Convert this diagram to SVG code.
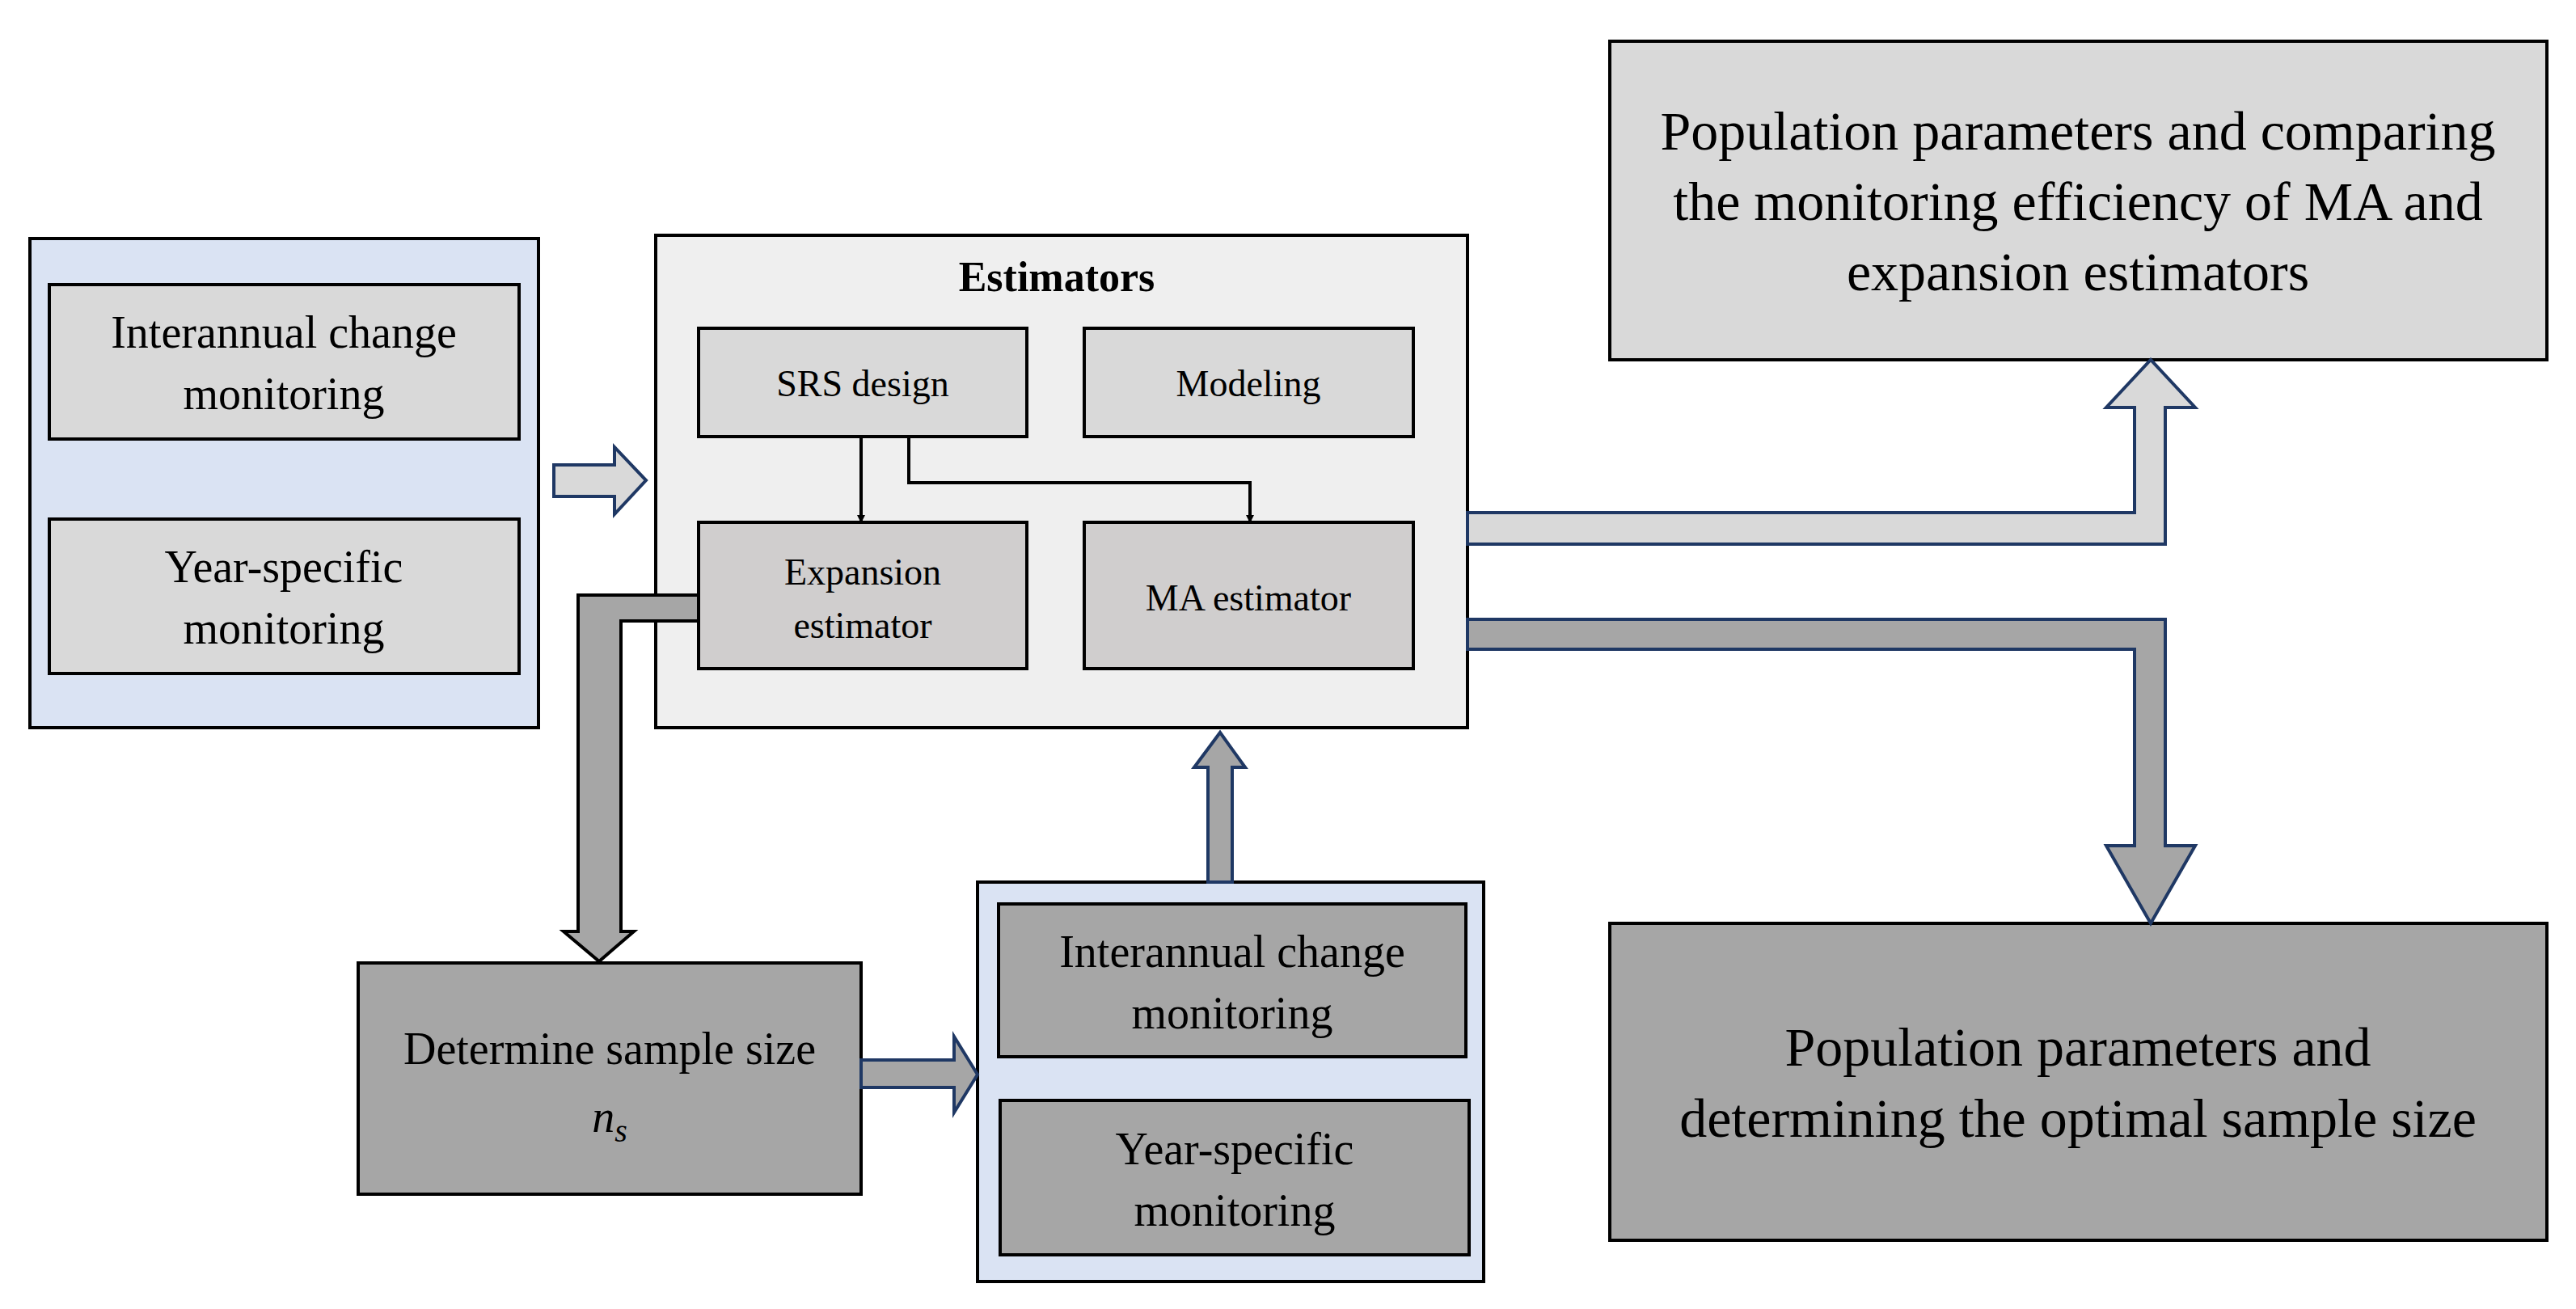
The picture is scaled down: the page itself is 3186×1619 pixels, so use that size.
<svg xmlns="http://www.w3.org/2000/svg" width="3186" height="1619" viewBox="0 0 3186 1619">
<style>
.t{font-family:"Liberation Serif",serif;fill:#000;text-anchor:middle}
.b{stroke:#000;stroke-width:4}
.n{stroke:#1f3864;stroke-width:4}
</style>
<defs><marker id="ah" markerWidth="10" markerHeight="10" refX="9" refY="5" orient="auto" markerUnits="userSpaceOnUse" viewBox="0 0 10 10"><path d="M0,0 L10,5 L0,10z" fill="#000"/></marker></defs>
<rect width="3186" height="1619" fill="#fff"/>
<g id="left">
<rect x="37" y="295" width="629" height="605" fill="#dae3f3" class="b"/>
<rect x="61" y="352" width="581" height="191" fill="#d9d9d9" class="b"/>
<text class="t" x="351" y="430" font-size="56">Interannual change</text>
<text class="t" x="351" y="506" font-size="56">monitoring</text>
<rect x="61" y="642" width="581" height="191" fill="#d9d9d9" class="b"/>
<text class="t" x="351" y="720" font-size="56">Year-specific</text>
<text class="t" x="351" y="796" font-size="56">monitoring</text>
</g>
<g id="estimators">
<rect x="811" y="291" width="1004" height="609" fill="#efefef" class="b"/>
<text class="t" x="1307" y="360" font-size="52" font-weight="bold">Estimators</text>
<rect x="864" y="406" width="406" height="134" fill="#d9d9d9" class="b"/>
<text class="t" x="1067" y="490" font-size="46">SRS design</text>
<rect x="1341" y="406" width="407" height="134" fill="#d9d9d9" class="b"/>
<text class="t" x="1544" y="490" font-size="46">Modeling</text>
<rect x="864" y="646" width="406" height="181" fill="#d0cece" class="b"/>
<text class="t" x="1067" y="723" font-size="46">Expansion</text>
<text class="t" x="1067" y="789" font-size="46">estimator</text>
<rect x="1341" y="646" width="407" height="181" fill="#d0cece" class="b"/>
<text class="t" x="1544" y="755" font-size="46">MA estimator</text>
</g>
<g id="sample">
<rect x="443" y="1191" width="622" height="286" fill="#a6a6a6" class="b"/>
<text class="t" x="754" y="1316" font-size="56">Determine sample size</text>
<text class="t" x="754" y="1400" font-size="56" font-style="italic">n<tspan font-size="40" dy="12">s</tspan></text>
</g>
<g id="bottomgroup">
<rect x="1209" y="1091" width="626" height="494" fill="#dae3f3" class="b"/>
<rect x="1235" y="1118" width="578" height="189" fill="#a6a6a6" class="b"/>
<text class="t" x="1524" y="1196" font-size="56">Interannual change</text>
<text class="t" x="1524" y="1272" font-size="56">monitoring</text>
<rect x="1237" y="1361" width="580" height="191" fill="#a6a6a6" class="b"/>
<text class="t" x="1527" y="1440" font-size="56">Year-specific</text>
<text class="t" x="1527" y="1516" font-size="56">monitoring</text>
</g>
<g id="result1">
<rect x="1991" y="51" width="1159" height="394" fill="#d9d9d9" class="b"/>
<text class="t" x="2570" y="185" font-size="68">Population parameters and comparing</text>
<text class="t" x="2570" y="272" font-size="68">the monitoring efficiency of MA  and</text>
<text class="t" x="2570" y="359" font-size="68">expansion estimators</text>
</g>
<g id="result2">
<rect x="1991" y="1142" width="1159" height="392" fill="#a6a6a6" class="b"/>
<text class="t" x="2570" y="1318" font-size="68">Population parameters and</text>
<text class="t" x="2570" y="1406" font-size="68">determining the optimal sample size</text>
</g>
<g id="connectors">
<path d="M1065,540 V646" stroke="#000" stroke-width="4" fill="none" marker-end="url(#ah)"/>
<path d="M1124,540 V597 H1546 V646" stroke="#000" stroke-width="4" fill="none" marker-end="url(#ah)"/>
<path d="M685,575 H760 V553 L799,594 L760,636 V614 H685Z" fill="#d9d9d9" class="n"/>
<path d="M864,736 H715 V1152 H697 L741,1189 L784,1152 H768 V768 H864Z" fill="#a6a6a6" class="b"/>
<path d="M1065,1311 H1180 V1282 L1209,1329 L1180,1376 V1345 H1065Z" fill="#a6a6a6" class="n"/>
<path d="M1494,1091 V949 H1477 L1509,906 L1540,949 H1524 V1091Z" fill="#a6a6a6" class="n"/>
<path d="M1815,634 H2640 V504 H2605 L2660,445 L2715,504 H2678 V673 H1815Z" fill="#d9d9d9" class="n"/>
<path d="M1815,766 H2678 V1046 H2715 L2660,1142 L2605,1046 H2640 V803 H1815Z" fill="#a6a6a6" class="n"/>
</g>
</svg>
